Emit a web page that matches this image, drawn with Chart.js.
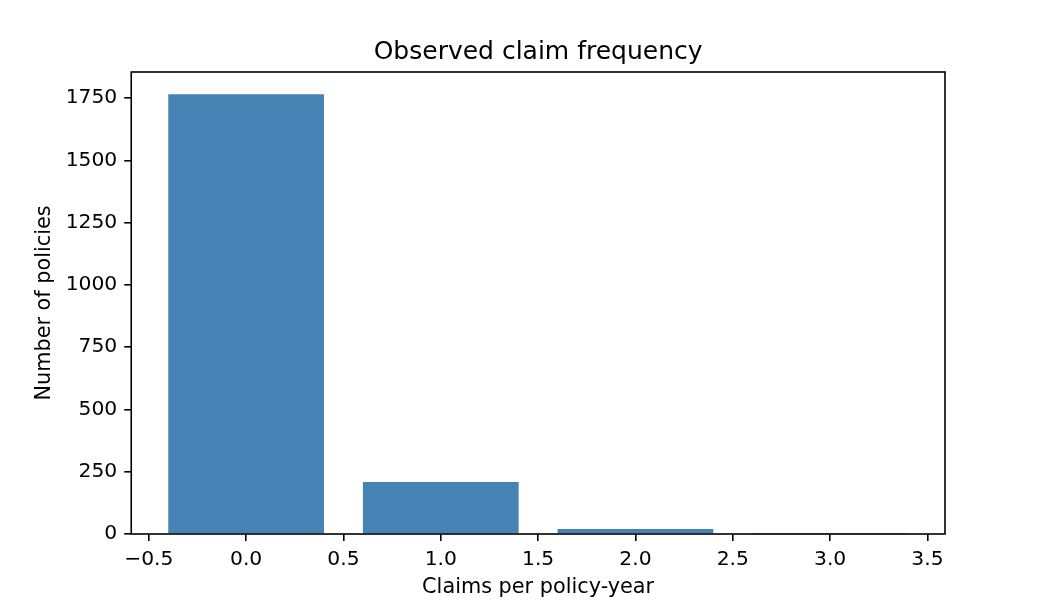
<!DOCTYPE html>
<html>
<head>
<meta charset="utf-8">
<script src="https://cdn.jsdelivr.net/npm/chart.js@4.4.1/dist/chart.umd.min.js"></script>
<style>
  html, body { margin: 0; padding: 0; background: #fff; }
  #wrap { width: 1050px; height: 600px; }
</style>
</head>
<body>
<div id="wrap"><canvas id="c" width="1050" height="600"></canvas></div>
<script>
const claimCounts = [0, 1, 2, 3];
const policyCounts = [1766, 209, 20, 1];
const xTickValues = [-0.5, 0, 0.5, 1, 1.5, 2, 2.5, 3, 3.5];
const yTickValues = [0, 250, 500, 750, 1000, 1250, 1500, 1750];
const chartTitle = 'Observed claim frequency';
const xLabel = 'Claims per policy-year';
const yLabel = 'Number of policies';

const FONT = 'DejaVu Sans';
const TICK_SIZE = 20.3;
const LABEL_SIZE = 20.8;
const TITLE_SIZE = 25;
const fmtX = v => v.toFixed(1).replace('-', '\u2212');

const frame = {
  id: 'frame',
  afterLayout(chart) {
    const t = chart.titleBlock;
    if (t) {
      t.left = chart.chartArea.left;
      t.right = chart.chartArea.right;
      t.width = t.right - t.left;
    }
  },
  afterDatasetsDraw(chart) {
    const {ctx, chartArea: a} = chart;
    ctx.save();
    ctx.strokeStyle = '#000';
    ctx.lineWidth = 1.6;
    ctx.strokeRect(a.left, a.top, a.right - a.left, a.bottom - a.top);
    ctx.restore();
  }
};

const gridOpts = {
  display: true, drawOnChartArea: false, drawTicks: true, offset: false,
  tickLength: 7, color: '#000', lineWidth: 1.6
};

new Chart(document.getElementById('c'), {
  type: 'bar',
  data: {
    datasets: [{
      data: claimCounts.map((x, i) => ({x: x, y: policyCounts[i]})),
      backgroundColor: '#4682B4',
      borderWidth: 0,
      barPercentage: 1.6,
      categoryPercentage: 1.0
    }]
  },
  options: {
    responsive: false,
    animation: false,
    devicePixelRatio: 1,
    layout: { padding: { left: 0, right: 105, top: 0, bottom: 0 } },
    plugins: {
      legend: { display: false },
      tooltip: { enabled: false },
      title: {
        display: true,
        text: chartTitle,
        color: '#000',
        font: { family: FONT, size: TITLE_SIZE, weight: 'normal' },
        padding: { top: 37, bottom: 5 }
      }
    },
    scales: {
      x: {
        type: 'linear',
        min: -0.59,
        max: 3.59,
        offset: false,
        afterBuildTicks: s => { s.ticks = xTickValues.map(v => ({value: v})); },
        afterFit: s => { s.height = 66; },
        ticks: {
          color: '#000',
          font: { family: FONT, size: TICK_SIZE },
          padding: 7,
          maxRotation: 0,
          autoSkip: false,
          callback: v => fmtX(v)
        },
        grid: gridOpts,
        border: { display: false },
        title: {
          display: true,
          text: xLabel,
          color: '#000',
          font: { family: FONT, size: LABEL_SIZE },
          padding: { top: 0, bottom: 0 }
        }
      },
      y: {
        type: 'linear',
        min: 0,
        max: 1855,
        afterBuildTicks: s => { s.ticks = yTickValues.map(v => ({value: v})); },
        afterFit: s => { s.width = 131.25; },
        ticks: {
          color: '#000',
          font: { family: FONT, size: TICK_SIZE },
          padding: 7,
          autoSkip: false,
          callback: v => String(v)
        },
        grid: gridOpts,
        border: { display: false },
        title: {
          display: true,
          text: yLabel,
          color: '#000',
          font: { family: FONT, size: LABEL_SIZE },
          padding: { top: 32, bottom: 0 }
        }
      }
    }
  },
  plugins: [frame]
});
</script>
</body>
</html>
